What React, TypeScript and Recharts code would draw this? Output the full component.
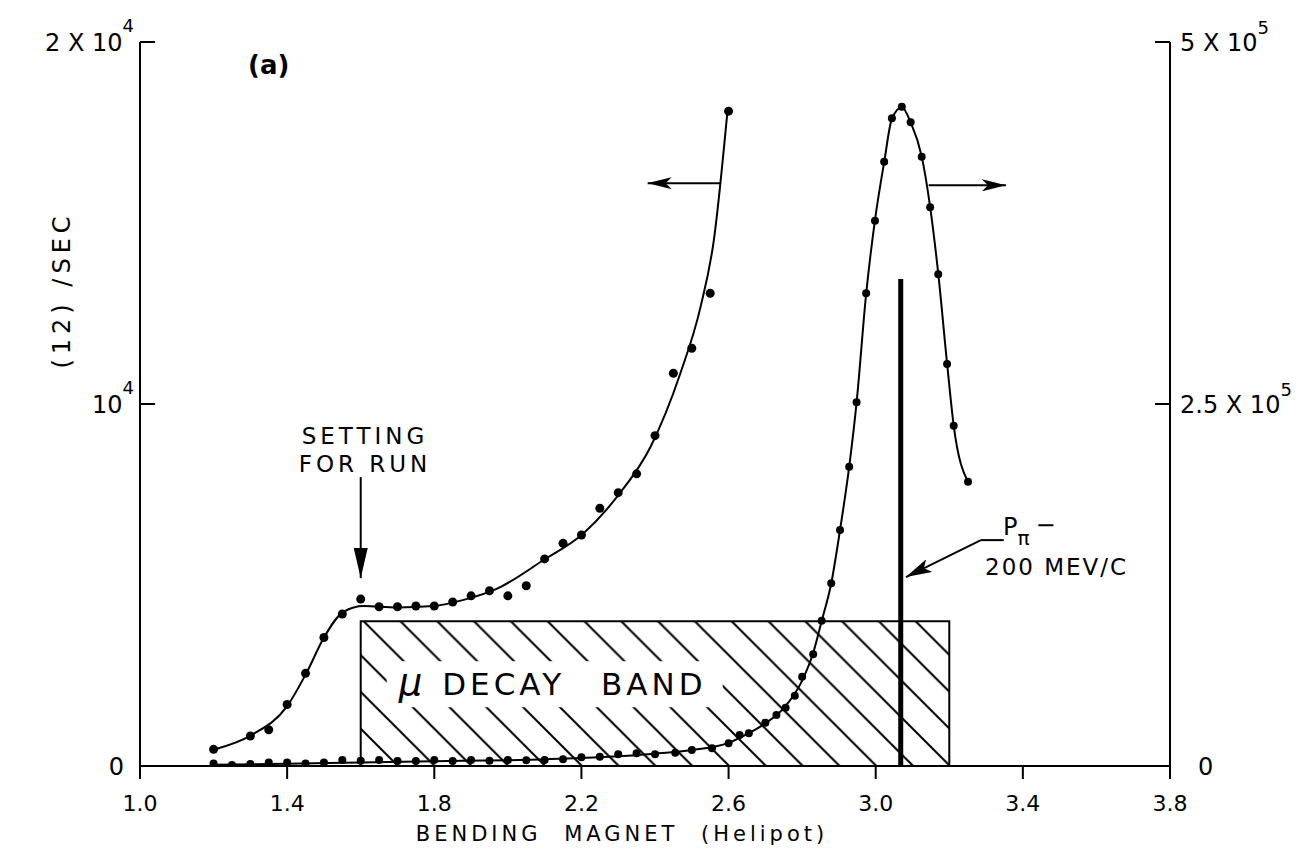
import {
  ComposedChart,
  Line,
  Scatter,
  XAxis,
  YAxis,
  ReferenceArea,
  ReferenceLine,
} from "recharts";

const FONT = "DejaVu Sans, sans-serif";

// bending magnet axis
const xTicks = [1.0, 1.4, 1.8, 2.2, 2.6, 3.0, 3.4, 3.8];

// left scale: (12)/sec, right scale: pion peak counts
const leftTicks = [0, 10000, 20000];
const leftTickText = ["0", "10", "2 X 10"];
const leftTickExp = ["", "4", "4"];
const rightTicks = [0, 250000, 500000];
const rightTickText = ["0", "2.5 X 10", "5 X 10"];
const rightTickExp = ["", "5", "5"];

// measured points, left scale
const leftMagnet = [1.2, 1.3, 1.35, 1.4, 1.45, 1.5, 1.55, 1.6, 1.65, 1.7, 1.75, 1.8, 1.85, 1.9, 1.95, 2.0, 2.05, 2.1, 2.15, 2.2, 2.25, 2.3, 2.35, 2.4, 2.45, 2.5, 2.55, 2.6];
const leftRate = [460, 830, 1000, 1700, 2560, 3550, 4200, 4610, 4400, 4400, 4420, 4420, 4530, 4700, 4840, 4700, 4980, 5720, 6150, 6380, 7120, 7550, 8070, 9125, 10850, 11540, 13060, 18090];

// smooth curve drawn through the left-scale points
const leftFitMagnet = [1.2, 1.304, 1.399, 1.454, 1.499, 1.553, 1.608, 1.699, 1.797, 1.88, 1.971, 2.097, 2.206, 2.297, 2.388, 2.469, 2.524, 2.56, 2.597];
const leftFitRate = [450, 860, 1640, 2600, 3530, 4260, 4420, 4380, 4420, 4590, 4900, 5690, 6430, 7440, 8820, 10850, 12690, 14530, 18090];

// measured points, right scale
const rightMagnet = [1.2, 1.25, 1.3, 1.35, 1.4, 1.45, 1.5, 1.55, 1.6, 1.65, 1.7, 1.75, 1.8, 1.85, 1.9, 1.95, 2.0, 2.05, 2.1, 2.15, 2.2, 2.25, 2.3, 2.35, 2.4, 2.455, 2.5, 2.555, 2.6, 2.63, 2.655, 2.7, 2.73, 2.755, 2.78, 2.8, 2.83, 2.853, 2.879, 2.903, 2.928, 2.948, 2.974, 2.998, 3.023, 3.044, 3.071, 3.095, 3.125, 3.148, 3.17, 3.194, 3.212, 3.251];
const rightRate = [1800, 700, 1400, 2500, 2500, 1800, 2500, 4100, 3700, 4100, 3500, 3500, 4100, 3500, 4100, 3700, 4100, 4000, 4100, 4600, 6000, 6400, 8100, 8800, 8100, 9200, 11000, 12200, 15700, 21400, 22600, 29900, 35200, 40300, 48600, 61700, 77100, 100300, 126200, 163000, 206700, 251200, 326400, 376600, 417300, 447300, 455300, 444500, 420800, 385800, 339600, 277600, 235000, 196300];

// smooth curve through the right-scale points
const rightFitMagnet = [1.2, 1.4, 1.6, 1.8, 2.0, 2.2, 2.4, 2.5, 2.6, 2.65, 2.7, 2.75, 2.8, 2.83, 2.853, 2.879, 2.903, 2.928, 2.948, 2.974, 2.998, 3.023, 3.044, 3.071, 3.095, 3.125, 3.148, 3.17, 3.194, 3.212, 3.251];
const rightFitRate = [800, 1500, 2500, 3300, 4000, 5500, 8500, 11000, 16000, 22000, 29500, 40000, 59000, 78000, 100000, 126000, 163000, 207000, 251000, 326000, 377000, 417000, 447000, 455000, 444500, 421000, 386000, 340000, 278000, 235000, 196000];

// mu decay band (left scale) and the 200 MeV/c pion setting
const band = { from: 1.6, to: 3.2, top: 4000 };
const pionSetting = { x: 3.068, top: 13450 };

const toPoints = (xs: number[], ys: number[]) => xs.map((x, i) => ({ x, y: ys[i] }));
const leftDots = toPoints(leftMagnet, leftRate);
const leftFit = toPoints(leftFitMagnet, leftFitRate);
const rightDots = toPoints(rightMagnet, rightRate);
const rightFit = toPoints(rightFitMagnet, rightFitRate);

const dot = (r: number) => (p: any) => <circle cx={p.cx} cy={p.cy} r={r} fill="#000" />;

const arrow = (marker?: string, width = 2) => (p: any) => (
  <line
    x1={p.x1}
    y1={p.y1}
    x2={p.x2}
    y2={p.y2}
    stroke="#000"
    strokeWidth={width}
    markerEnd={marker ? `url(#${marker})` : undefined}
  />
);

function LeftTick({ x, y, payload }: any) {
  const i = leftTicks.indexOf(payload.value);
  const exp = leftTickExp[i];
  return (
    <g>
      {payload.value > 0 && <line x1={x} y1={y} x2={x + 15} y2={y} stroke="#000" strokeWidth={2} />}
      <text x={exp ? x - 6 : x - 16} y={y + 9} textAnchor="end" fontFamily={FONT} fontSize={24} fill="#000">
        {leftTickText[i]}
        {exp && (
          <tspan dy={-19} fontSize={18}>
            {exp}
          </tspan>
        )}
      </text>
    </g>
  );
}

function RightTick({ x, y, payload }: any) {
  const i = rightTicks.indexOf(payload.value);
  const exp = rightTickExp[i];
  return (
    <g>
      {payload.value > 0 && <line x1={x - 15} y1={y} x2={x} y2={y} stroke="#000" strokeWidth={2} />}
      <text x={exp ? x + 10 : x + 28} y={y + 9} textAnchor="start" fontFamily={FONT} fontSize={24} fill="#000">
        {rightTickText[i]}
        {exp && (
          <tspan dy={-17} fontSize={18}>
            {exp}
          </tspan>
        )}
      </text>
    </g>
  );
}

function BandLabel(props: any) {
  const { x, y } = props.viewBox;
  return (
    <g>
      <rect x={x + 26} y={y + 40} width={336} height={46} fill="#fff" />
      <text x={x + 38} y={y + 74} fontFamily={FONT} fontSize={31} letterSpacing={4} fill="#000">
        <tspan fontStyle="italic" fontSize={37} letterSpacing={0}>
          μ
        </tspan>
        <tspan dx={20}>DECAY</tspan>
        <tspan dx={36}>BAND</tspan>
      </text>
    </g>
  );
}

export default function App() {
  return (
    <div style={{ position: "absolute", left: 0, top: 0, width: 1310, height: 856, background: "#fff" }}>
      <ComposedChart width={1310} height={856} margin={{ top: 42, right: 40, bottom: 25, left: 40 }}>
        <defs>
          <pattern id="hatch" patternUnits="userSpaceOnUse" width={36.8} height={36.8}>
            <path
              d="M-9.2,27.6 L9.2,46 M0,0 L36.8,36.8 M27.6,-9.2 L46,9.2"
              stroke="#000"
              strokeWidth={2}
            />
          </pattern>
          <marker id="headLong" markerUnits="userSpaceOnUse" markerWidth={30} markerHeight={14} refX={30} refY={7} orient="auto">
            <path d="M0,0 L30,7 L0,14 Z" fill="#000" />
          </marker>
          <marker id="headShort" markerUnits="userSpaceOnUse" markerWidth={24} markerHeight={12} refX={24} refY={6} orient="auto">
            <path d="M0,0 L24,6 L0,12 L6,6 Z" fill="#000" />
          </marker>
          <marker id="headLead" markerUnits="userSpaceOnUse" markerWidth={26} markerHeight={14} refX={26} refY={7} orient="auto">
            <path d="M0,0 L26,7 L0,14 L6,7 Z" fill="#000" />
          </marker>
        </defs>

        <XAxis
          dataKey="x"
          type="number"
          domain={[1, 3.8]}
          ticks={xTicks}
          allowDataOverflow
          tickFormatter={(v: number) => v.toFixed(1)}
          axisLine={{ stroke: "#000", strokeWidth: 2 }}
          tickLine={{ stroke: "#000", strokeWidth: 2 }}
          tickSize={13}
          tickMargin={16}
          tick={{ fill: "#000", fontSize: 22, fontFamily: FONT }}
          height={65}
        />
        <YAxis
          yAxisId="l"
          dataKey="y"
          type="number"
          domain={[0, 20000]}
          ticks={leftTicks}
          allowDataOverflow
          width={100}
          axisLine={{ stroke: "#000", strokeWidth: 2 }}
          tickLine={false}
          tickSize={0}
          tickMargin={0}
          tick={<LeftTick />}
        />
        <YAxis
          yAxisId="r"
          orientation="right"
          dataKey="y"
          type="number"
          domain={[0, 500000]}
          ticks={rightTicks}
          allowDataOverflow
          width={100}
          axisLine={{ stroke: "#000", strokeWidth: 2 }}
          tickLine={false}
          tickSize={0}
          tickMargin={0}
          tick={<RightTick />}
        />

        <ReferenceArea
          yAxisId="l"
          x1={band.from}
          x2={band.to}
          y1={0}
          y2={band.top}
          fill="url(#hatch)"
          fillOpacity={1}
          stroke="#000"
          strokeWidth={2}
          label={BandLabel}
        />

        <Line yAxisId="l" data={leftFit} dataKey="y" type="monotone" stroke="#000" strokeWidth={2} dot={false} activeDot={false} isAnimationActive={false} />
        <Line yAxisId="r" data={rightFit} dataKey="y" type="monotone" stroke="#000" strokeWidth={2} dot={false} activeDot={false} isAnimationActive={false} />
        <Scatter yAxisId="l" data={leftDots} dataKey="y" shape={dot(4.5)} isAnimationActive={false} />
        <Scatter yAxisId="r" data={rightDots} dataKey="y" shape={dot(4)} isAnimationActive={false} />

        <ReferenceLine
          yAxisId="l"
          segment={[{ x: pionSetting.x, y: 0 }, { x: pionSetting.x, y: pionSetting.top }]}
          shape={arrow(undefined, 5)}
        />
        {/* scale indicators */}
        <ReferenceLine yAxisId="l" segment={[{ x: 2.578, y: 16100 }, { x: 2.38, y: 16100 }]} shape={arrow("headShort")} />
        <ReferenceLine yAxisId="r" segment={[{ x: 3.144, y: 401000 }, { x: 3.354, y: 401000 }]} shape={arrow("headShort")} />
        {/* setting for run */}
        <ReferenceLine yAxisId="l" segment={[{ x: 1.6, y: 7980 }, { x: 1.6, y: 5190 }]} shape={arrow("headLong")} />
        {/* P_pi leader */}
        <ReferenceLine yAxisId="l" segment={[{ x: 3.348, y: 6240 }, { x: 3.286, y: 6240 }]} shape={arrow()} />
        <ReferenceLine yAxisId="l" segment={[{ x: 3.286, y: 6240 }, { x: 3.082, y: 5220 }]} shape={arrow("headLead")} />

        <text x={248} y={74} fontFamily={FONT} fontSize={26} fontWeight="bold" fill="#000">
          (a)
        </text>
        <text
          x={0}
          y={0}
          transform="translate(70 290) rotate(-90)"
          textAnchor="middle"
          fontFamily={FONT}
          fontSize={24}
          letterSpacing={5}
          fill="#000"
        >
          (12) /SEC
        </text>
        <text x={365} y={444} textAnchor="middle" fontFamily={FONT} fontSize={23} letterSpacing={4} fill="#000">
          SETTING
        </text>
        <text x={365} y={472} textAnchor="middle" fontFamily={FONT} fontSize={23} letterSpacing={4} fill="#000">
          FOR RUN
        </text>
        <text x={1003} y={535} fontFamily={FONT} fontSize={24} fill="#000">
          P
          <tspan dy={10} fontSize={20}>
            π
          </tspan>
          <tspan dy={-12} dx={6}>
            −
          </tspan>
        </text>
        <text x={985} y={575} fontFamily={FONT} fontSize={23} letterSpacing={2} fill="#000">
          200 MEV/C
        </text>
        <text x={622} y={841} textAnchor="middle" fontFamily={FONT} fontSize={21} letterSpacing={4} wordSpacing={12} fill="#000">
          BENDING MAGNET (Helipot)
        </text>
      </ComposedChart>
    </div>
  );
}
